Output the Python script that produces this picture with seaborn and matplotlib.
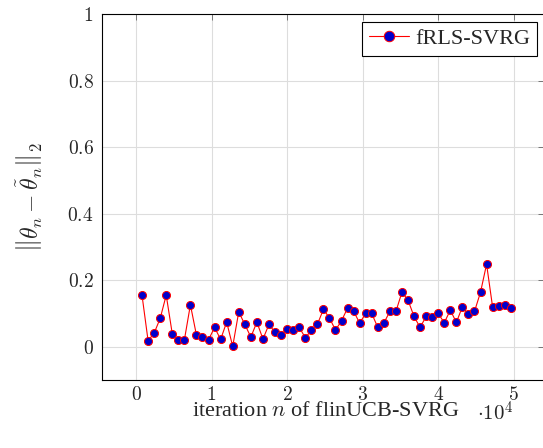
import numpy as np
import pandas as pd
import matplotlib
matplotlib.use("Agg")
import matplotlib.pyplot as plt
import seaborn as sns

# iteration index (in units of 10^4) and the parameter error
iters = np.arange(1, 63) * 0.08
errors = [
    0.154, 0.018, 0.041, 0.085, 0.155, 0.039, 0.020, 0.020, 0.126, 0.035,
    0.029, 0.021, 0.058, 0.022, 0.074, 0.001, 0.105, 0.067, 0.029, 0.074,
    0.023, 0.067, 0.043, 0.035, 0.053, 0.049, 0.059, 0.027, 0.049, 0.067,
    0.112, 0.087, 0.050, 0.078, 0.116, 0.107, 0.071, 0.100, 0.100, 0.058,
    0.071, 0.106, 0.106, 0.164, 0.140, 0.091, 0.058, 0.091, 0.089, 0.100,
    0.072, 0.110, 0.073, 0.120, 0.097, 0.106, 0.164, 0.248, 0.119, 0.122,
    0.125, 0.115,
]
series_name = "fRLS-SVRG"
x_ticks = [0, 1, 2, 3, 4, 5]
y_ticks = [0, 0.2, 0.4, 0.6, 0.8, 1.0]
y_tick_labels = ["$0$", "$0.2$", "$0.4$", "$0.6$", "$0.8$", "$1$"]

df = pd.DataFrame({"iteration": iters, "error": errors})

sns.set_style("white")
plt.rcParams["font.family"] = ["Liberation Serif", "DejaVu Serif"]
plt.rcParams["mathtext.fontset"] = "cm"

fig = plt.figure(figsize=(5.43, 4.48), dpi=100)
W, H = 543, 448
ax = fig.add_axes([102 / W, 1 - 380 / H, 442 / W, (380 - 14) / H])

sns.lineplot(data=df, x="iteration", y="error", ax=ax, color="red", linewidth=0.8,
             marker="o", markersize=5.8, markerfacecolor="#0000cc",
             markeredgecolor="red", markeredgewidth=0.7, label=series_name)

ax.set_xlim(-0.45, 5.4)
ax.set_ylim(-0.1, 1.0)
ax.set_xticks(x_ticks)
ax.set_xticklabels([f"${t}$" for t in x_ticks])
ax.set_yticks(y_ticks)
ax.set_yticklabels(y_tick_labels)
ax.tick_params(axis="both", which="both", direction="in", length=4, width=0.6,
               color="#666666", labelsize=14, top=True, right=True)
ax.tick_params(axis="x", pad=4)
ax.tick_params(axis="y", pad=6)
ax.grid(True, color="#dddddd", linewidth=0.8)
for s in ax.spines.values():
    s.set_color("black")
    s.set_linewidth(0.8)

ax.set_xlabel("")
ax.set_ylabel("")
fig.text(326 / W, 1 - 416 / H, "iteration $n$ of flinUCB-SVRG", fontsize=16,
         ha="center", va="baseline")
fig.text(477 / W, 1 - 421 / H, r"$\cdot 10^4$", fontsize=15, ha="left", va="baseline")
fig.text(30 / W, 1 - 197 / H, r"$\left\Vert\theta_n-\tilde{\theta}_n\right\Vert_2$",
         fontsize=17, rotation=90, ha="center", va="center")

leg = ax.legend(loc="upper right", bbox_to_anchor=(537 / W, 1 - 22 / H),
                bbox_transform=fig.transFigure, borderaxespad=0, fontsize=16,
                frameon=True, fancybox=False, framealpha=1, edgecolor="black",
                handlelength=1.8, borderpad=0.3, handletextpad=0.3, markerscale=1.3)
leg.get_frame().set_linewidth(0.8)

fig.savefig("out.png", dpi=100)
